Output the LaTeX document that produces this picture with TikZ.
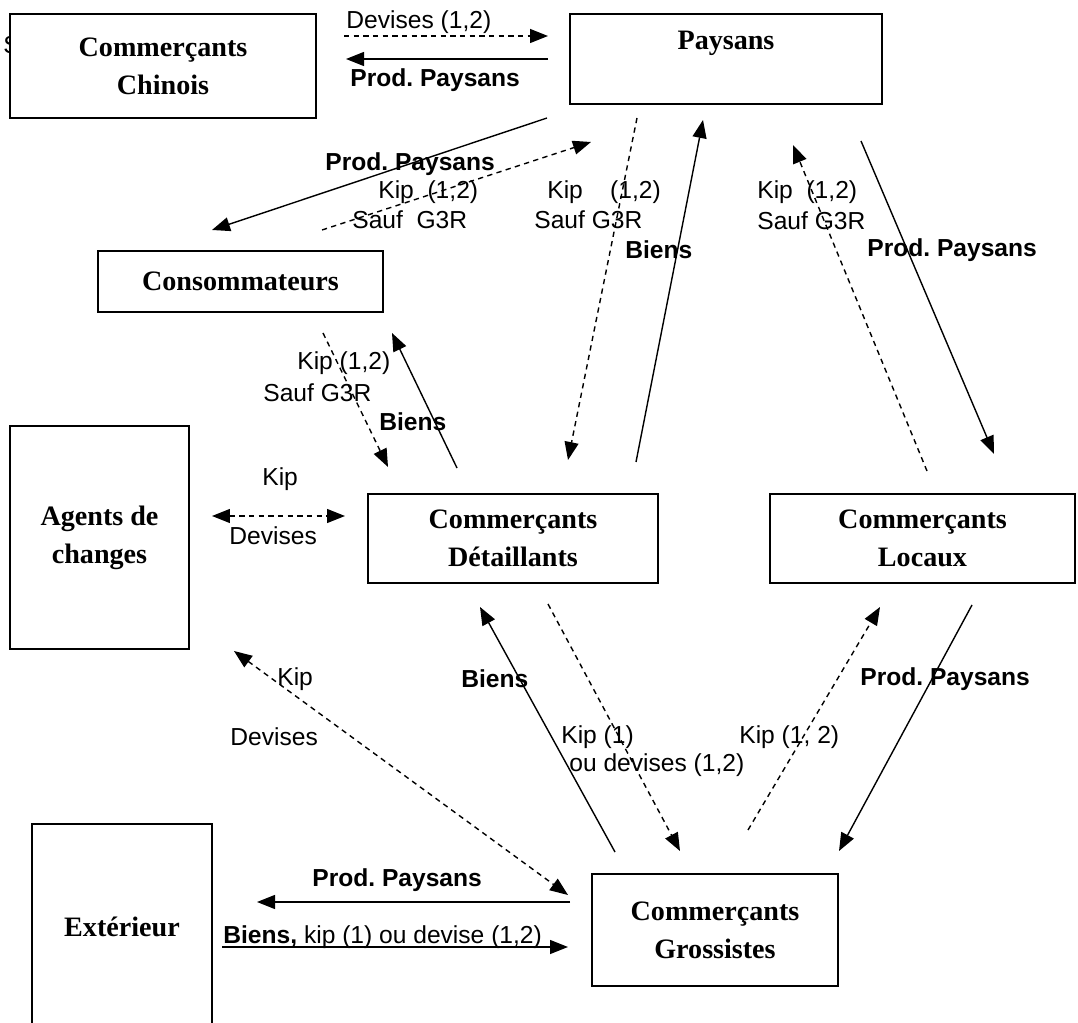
\documentclass[tikz,border=0pt]{standalone}
\usepackage{fontspec}
\setmainfont{Liberation Sans}
\newfontfamily\boxfont{Liberation Serif}
\usetikzlibrary{arrows.meta}
\frenchspacing

\begin{document}
\begin{tikzpicture}[
    x=0.02cm, y=-0.02cm,
    block/.style={rectangle, draw, line width=0.9pt, fill=white, inner sep=0pt, align=center, font=\boxfont\bfseries\fontsize{16}{21.6}\selectfont},
    arrow/.style={-{Triangle[length=0.36cm, width=0.28cm]}, line width=0.8pt},
    dasharrow/.style={arrow, dash pattern=on 3pt off 2.5pt},
    twoway/.style={dasharrow, {Triangle[length=0.36cm, width=0.28cm]}-{Triangle[length=0.36cm, width=0.28cm]}},
    lbl/.style={inner sep=0pt, anchor=west, font=\fontsize{14}{16.2}\selectfont},
    blbl/.style={lbl, font=\fontsize{14}{16.2}\selectfont\bfseries}
]
    \useasboundingbox (0,0) rectangle (1078,1023);
    \node[lbl] (stray) at (3,45) {S};

    % Boxes
    \node[block, minimum width=6.12cm, minimum height=2.08cm] (chn) at (163,66) {Commerçants\\Chinois};
    \node[block, minimum width=6.24cm, minimum height=1.8cm, text depth=0.75cm] (pay) at (726,59) {Paysans};
    \node[block, minimum width=5.7cm, minimum height=1.22cm] (con) at (240.5,281.5) {Consommateurs};
    \node[block, minimum width=3.58cm, minimum height=4.46cm] (agt) at (99.5,537.5) {Agents de\\changes};
    \node[block, minimum width=5.8cm, minimum height=1.78cm] (det) at (513,538.5) {Commerçants\\Détaillants};
    \node[block, minimum width=6.1cm, minimum height=1.78cm] (loc) at (922.5,538.5) {Commerçants\\Locaux};
    \node[block, minimum width=3.6cm, minimum height=4.12cm] (ext) at (122,927) {Extérieur};
    \node[block, minimum width=4.92cm, minimum height=2.24cm] (gro) at (715,930) {Commerçants\\Grossistes};

    % Connector ends
    \coordinate (chn-o) at (344,36);  \coordinate (pay-i) at (548,36);
    \coordinate (pay-o) at (548,59);  \coordinate (chn-i) at (346,59);
    \coordinate (pay-c) at (547,118); \coordinate (con-p) at (212,230);
    \coordinate (con-o) at (322,230); \coordinate (pay-ci) at (591,142);
    \coordinate (pay-d) at (637,118); \coordinate (det-p) at (568,460);
    \coordinate (det-o) at (636,462); \coordinate (pay-di) at (703,120);
    \coordinate (loc-o) at (927,471); \coordinate (pay-li) at (793,145);
    \coordinate (pay-l) at (861,141); \coordinate (loc-p) at (994,454);
    \coordinate (con-d) at (323,333); \coordinate (det-c) at (388,467);
    \coordinate (det-ci) at (457,468); \coordinate (con-di) at (392,333);
    \coordinate (agt-d) at (212,516); \coordinate (det-a) at (345,516);
    \coordinate (agt-g) at (234,651); \coordinate (gro-a) at (568,895);
    \coordinate (gro-d) at (615,852); \coordinate (det-g) at (480,607);
    \coordinate (det-go) at (548,604); \coordinate (gro-di) at (680,851);
    \coordinate (gro-l) at (748,830); \coordinate (loc-g) at (880,607);
    \coordinate (loc-go) at (972,605); \coordinate (gro-li) at (839,851);
    \coordinate (gro-e) at (570,902); \coordinate (ext-g) at (257,902);
    \coordinate (ext-o) at (222,947); \coordinate (gro-ei) at (568,947);

    % Connectors
    \draw[dasharrow] (chn-o) -- (pay-i);
    \draw[arrow] (pay-o) -- (chn-i);
    \draw[arrow] (pay-c) -- (con-p);
    \draw[dasharrow] (con-o) -- (pay-ci);
    \draw[dasharrow] (pay-d) -- (det-p);
    \draw[arrow] (det-o) -- (pay-di);
    \draw[dasharrow] (loc-o) -- (pay-li);
    \draw[arrow] (pay-l) -- (loc-p);
    \draw[dasharrow] (con-d) -- (det-c);
    \draw[arrow] (det-ci) -- (con-di);
    \draw[twoway] (agt-d) -- (det-a);
    \draw[twoway] (agt-g) -- (gro-a);
    \draw[arrow] (gro-d) -- (det-g);
    \draw[dasharrow] (det-go) -- (gro-di);
    \draw[dasharrow] (gro-l) -- (loc-g);
    \draw[arrow] (loc-go) -- (gro-li);
    \draw[arrow] (gro-e) -- (ext-g);
    \draw[arrow] (ext-o) -- (gro-ei);

    % Labels
    \node[lbl] (l1) at (346,22) {Devises (1,2)};
    \node[blbl] (l2) at (350,80) {Prod. Paysans};
    \node[blbl] (l3) at (325,164) {Prod. Paysans};
    \node[lbl] (l4a) at (378,192) {Kip\ \ (1,2)};
    \node[lbl] (l4b) at (352,220) {Sauf\ \ G3R};
    \node[lbl] (l5a) at (547,192) {Kip\ \ \ \ (1,2)};
    \node[lbl] (l5b) at (534,220) {Sauf G3R};
    \node[blbl] (l6) at (625,250) {Biens};
    \node[lbl] (l7a) at (757,192) {Kip\ \ (1,2)};
    \node[lbl] (l7b) at (757,221) {Sauf G3R};
    \node[blbl] (l8) at (867,250) {Prod. Paysans};
    \node[lbl] (l9a) at (297,363) {Kip (1,2)};
    \node[lbl] (l9b) at (263,393) {Sauf G3R};
    \node[blbl] (l10) at (379,422) {Biens};
    \node[lbl] (l11a) at (262,479) {Kip};
    \node[lbl] (l11b) at (229,536) {Devises};
    \node[lbl] (l12a) at (277,679) {Kip};
    \node[lbl] (l12b) at (230,737) {Devises};
    \node[blbl] (l13) at (461,679) {Biens};
    \node[lbl] (l14a) at (561,737) {Kip (1)};
    \node[lbl] (l14b) at (569,765) {ou devises (1,2)};
    \node[lbl] (l15) at (739,737) {Kip (1, 2)};
    \node[blbl] (l16) at (860,679) {Prod. Paysans};
    \node[blbl] (l17) at (312,880) {Prod. Paysans};
    \node[lbl] (l18) at (223,937) {\textbf{Biens,} kip (1) ou devise (1,2)};
\end{tikzpicture}
\end{document}
